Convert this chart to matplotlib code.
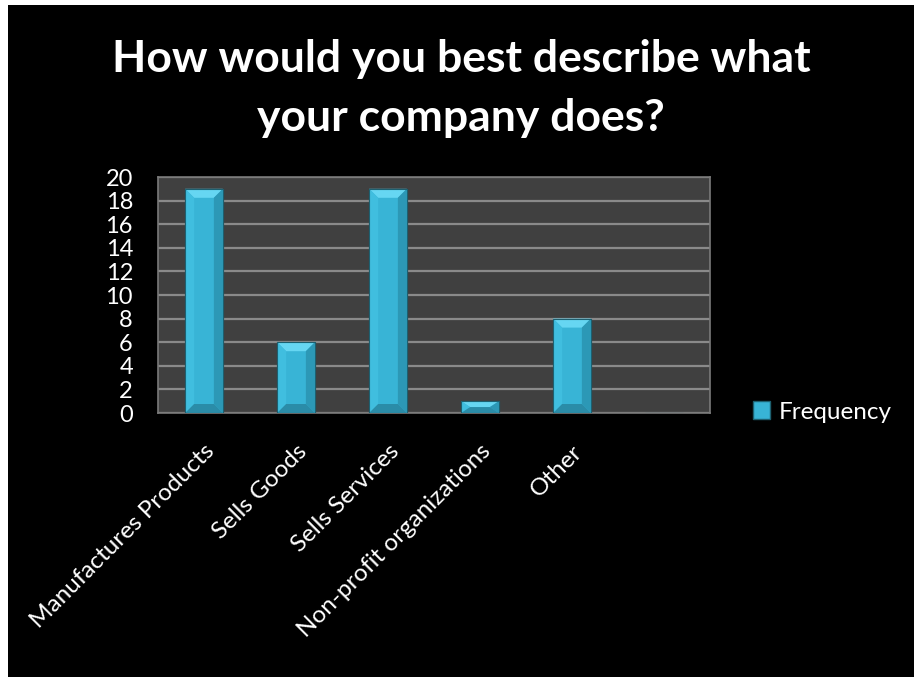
import matplotlib
matplotlib.use("Agg")
import matplotlib.pyplot as plt
from matplotlib.patches import Rectangle, Polygon

plt.rcParams['font.family'] = ['Lato', 'DejaVu Sans']

title_lines = ["How would you best describe what", "your company does?"]
categories = ["Manufactures Products", "Sells Goods", "Sells Services",
              "Non-profit organizations", "Other", ""]
frequency = [19, 6, 19, 1, 8, 0]
series_name = "Frequency"
y_ticks = list(range(0, 21, 2))

W, H = 914, 677
fig = plt.figure(figsize=(W / 100, H / 100), dpi=100, facecolor="black")
# thin white margin on the top and left edges of the slide
fig.patches.append(Rectangle((0, 0), 8 / W, 1, transform=fig.transFigure,
                             facecolor="white", edgecolor="none", zorder=-10))
fig.patches.append(Rectangle((0, 1 - 5 / H), 1, 5 / H, transform=fig.transFigure,
                             facecolor="white", edgecolor="none", zorder=-10))

ax = fig.add_axes([158 / W, 1 - 413 / H, (710 - 158) / W, (413 - 177) / H])
ax.set_facecolor("#404040")
ax.set_xlim(-0.5, len(categories) - 0.5)
ax.set_ylim(0, 20)
ax.set_yticks(y_ticks)
ax.set_yticklabels([str(v) for v in y_ticks])
ax.yaxis.grid(True, color="#8a8a8a", linewidth=1.6)
ax.set_axisbelow(True)
for s in ax.spines.values():
    s.set_color("#7a7a7a")
    s.set_linewidth(1.2)
ax.tick_params(axis="y", length=0, pad=18, labelsize=17, labelcolor="white")
ax.tick_params(axis="x", length=0, pad=20, labelsize=17.5, labelcolor="white")
ax.set_xticks(range(len(categories)))
ax.set_xticklabels(categories, rotation=45, ha="right", rotation_mode="anchor")

face = "#38B4D6"
bars = ax.bar(range(len(categories)), frequency, width=0.41, color=face,
              edgecolor="#1d6070", linewidth=0.8, zorder=3)

# bevel facets on every bar, sized in pixels and converted to data units
px_x = (ax.get_xlim()[1] - ax.get_xlim()[0]) / 552.0
px_y = (ax.get_ylim()[1] - ax.get_ylim()[0]) / 236.0
bev = 9
for b in bars:
    h = b.get_height()
    if h <= 0:
        continue
    x0, w = b.get_x(), b.get_width()
    bx = min(bev * px_x, w / 2)
    by = min(bev * px_y, h / 2)
    facets = [
        ([(x0, h), (x0 + w, h), (x0 + w - bx, h - by), (x0 + bx, h - by)], "#66D6F2"),
        ([(x0, 0), (x0, h), (x0 + bx, h - by), (x0 + bx, by)], "#40BEDF"),
        ([(x0 + w, 0), (x0 + w, h), (x0 + w - bx, h - by), (x0 + w - bx, by)], "#2C98B6"),
        ([(x0, 0), (x0 + w, 0), (x0 + w - bx, by), (x0 + bx, by)], "#2A8CA8"),
    ]
    for pts, c in facets:
        ax.add_patch(Polygon(pts, closed=True, facecolor=c, edgecolor="none", zorder=4))
    ax.add_patch(Rectangle((x0, 0), w, h, facecolor="none", edgecolor="#1d6070",
                           linewidth=0.8, zorder=5))

for line, base in zip(title_lines, [72, 131]):
    fig.text(461 / W, 1 - base / H, line, ha="center", va="baseline", color="white",
             fontsize=32, fontweight="bold")

handle = Rectangle((0, 0), 1, 1, facecolor=face, edgecolor="#1d6070")
fig.legend([handle], [series_name], loc="center left",
           bbox_to_anchor=(731 / W, 1 - 412 / H), frameon=False,
           fontsize=17.5, labelcolor="white", handlelength=0.7, handleheight=0.7,
           handletextpad=0.35)

fig.savefig("out.png", dpi=100, facecolor=fig.get_facecolor())
